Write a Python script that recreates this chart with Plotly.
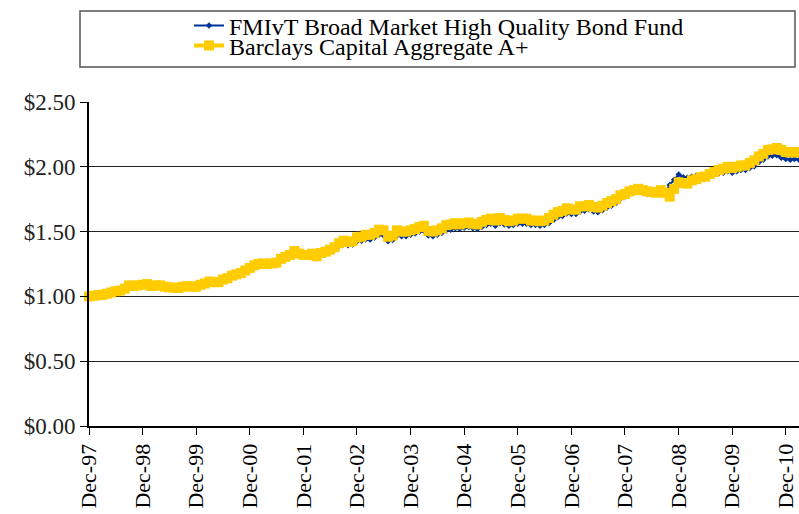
import pandas as pd
import plotly.graph_objects as go

# Month-end dates Dec-97 .. Mar-11
dates = pd.date_range("1997-12-31", "2011-03-31", freq="ME")

fund = [1.00,
    1.002,1.006,1.008,1.015,1.025,1.035,1.04,1.055,1.08,1.075,1.08,1.085,
    1.09,1.075,1.08,1.08,1.07,1.065,1.062,1.06,1.07,1.072,1.072,1.068,
    1.085,1.095,1.11,1.105,1.105,1.125,1.135,1.155,1.165,1.175,1.195,1.215,
    1.23,1.24,1.245,1.24,1.245,1.25,1.28,1.295,1.31,1.335,1.32,1.31,
    1.305,1.315,1.295,1.32,1.33,1.345,1.36,1.39,1.405,1.395,1.40,1.425,
    1.43,1.44,1.44,1.455,1.475,1.47,1.425,1.435,1.47,1.465,1.465,1.475,
    1.485,1.50,1.505,1.47,1.465,1.475,1.49,1.51,1.515,1.525,1.52,1.53,
    1.535,1.525,1.52,1.535,1.55,1.56,1.545,1.565,1.555,1.545,1.55,1.56,
    1.56,1.56,1.55,1.55,1.545,1.55,1.565,1.59,1.61,1.62,1.64,1.635,
    1.635,1.655,1.66,1.67,1.655,1.65,1.665,1.685,1.70,1.72,1.755,1.77,
    1.80,1.81,1.81,1.80,1.79,1.79,1.79,1.80,1.80,1.86,1.90,1.94,
    1.92,1.915,1.925,1.93,1.935,1.935,1.94,1.945,1.95,1.955,1.965,1.955,
    1.965,1.975,1.975,1.99,2.005,2.035,2.055,2.08,2.085,2.09,2.07,2.06,
    2.055,2.06,2.055]

index = [1.00,
    1.005,1.01,1.012,1.02,1.03,1.04,1.045,1.06,1.085,1.08,1.085,1.09,
    1.095,1.08,1.085,1.085,1.075,1.07,1.068,1.065,1.075,1.078,1.077,1.075,
    1.09,1.10,1.115,1.11,1.11,1.13,1.14,1.16,1.17,1.18,1.20,1.22,
    1.24,1.25,1.255,1.25,1.255,1.26,1.29,1.305,1.32,1.35,1.33,1.32,
    1.32,1.33,1.31,1.335,1.345,1.36,1.38,1.41,1.43,1.42,1.425,1.455,
    1.46,1.475,1.475,1.49,1.515,1.51,1.46,1.47,1.51,1.50,1.50,1.51,
    1.52,1.535,1.545,1.505,1.50,1.51,1.525,1.55,1.555,1.565,1.555,1.565,
    1.57,1.56,1.555,1.575,1.59,1.60,1.585,1.605,1.59,1.58,1.585,1.60,
    1.60,1.60,1.585,1.585,1.58,1.585,1.605,1.63,1.65,1.66,1.68,1.67,
    1.67,1.695,1.695,1.705,1.69,1.685,1.70,1.72,1.735,1.75,1.78,1.79,
    1.81,1.82,1.83,1.82,1.81,1.805,1.80,1.82,1.80,1.77,1.83,1.88,
    1.875,1.87,1.895,1.905,1.92,1.925,1.945,1.96,1.975,1.985,2.00,1.99,
    2.00,2.01,2.01,2.03,2.05,2.08,2.10,2.13,2.135,2.145,2.13,2.115,
    2.11,2.115,2.11]

series_names = ["FMIvT Broad Market High Quality Bond Fund",
                "Barclays Capital Aggregate A+"]
tick_dates = [d for d in dates if d.month == 12]
tick_labels = [d.strftime("Dec-%y") for d in tick_dates]
y_ticks = [0, 0.5, 1.0, 1.5, 2.0, 2.5]
y_tick_labels = ["$0.00", "$0.50", "$1.00", "$1.50", "$2.00", "$2.50"]

FONT = "Liberation Serif"
W, H = 799, 514
L, R, T, B = 89, 0, 102, 88
pw, ph = W - L - R, H - T - B

def px(x):
    return (x - L) / pw

def py(y):
    return (H - B - y) / ph

fig = go.Figure()
fig.add_trace(go.Scatter(
    x=dates, y=fund, name=series_names[0], mode="lines+markers",
    line=dict(color="#003399", width=2),
    marker=dict(symbol="diamond", size=5, color="#003399"),
    legend="legend2", cliponaxis=False))
fig.add_trace(go.Scatter(
    x=dates, y=index, name=series_names[1], mode="lines+markers",
    line=dict(color="#FFCC00", width=4),
    marker=dict(symbol="square", size=10, color="#FFCC00"),
    legend="legend3", cliponaxis=False))

legend_common = dict(font=dict(family=FONT, size=24, color="black"),
                     bgcolor="rgba(0,0,0,0)", borderwidth=0,
                     xref="container", yref="container",
                     xanchor="left", yanchor="middle", itemwidth=30)

fig.update_layout(
    width=W, height=H,
    margin=dict(l=L, r=R, t=T, b=B, autoexpand=False),
    paper_bgcolor="white", plot_bgcolor="white",
    font=dict(family=FONT, size=22, color="black"),
    showlegend=True,
    legend2=dict(x=189 / W, y=1 - 26 / H, **legend_common),
    legend3=dict(x=189 / W, y=1 - 46 / H, **legend_common),
    xaxis=dict(
        range=[dates[0], dates[-1]], automargin=False,
        tickvals=tick_dates, ticktext=tick_labels, tickangle=-90,
        ticks="outside", ticklen=7, tickcolor="black", tickwidth=1,
        ticklabelstandoff=0,
        showline=True, linecolor="black", linewidth=2,
        showgrid=False, zeroline=False,
        tickfont=dict(family=FONT, size=22, color="black")),
    yaxis=dict(
        range=[0, 2.5], automargin=False,
        tickvals=y_ticks, ticktext=y_tick_labels,
        ticks="outside", ticklen=7, tickcolor="black",
        showline=True, linecolor="black", linewidth=2,
        showgrid=True, gridcolor="#222222", gridwidth=1, zeroline=False,
        tickfont=dict(family=FONT, size=23, color="#222222")),
    shapes=[dict(type="rect", xref="paper", yref="paper",
                 x0=px(80), x1=px(795), y0=py(67), y1=py(11),
                 line=dict(color="#555555", width=1.5),
                 fillcolor="rgba(0,0,0,0)")],
)

fig.write_html(
    "out.html",
    config={"displayModeBar": False},
    post_script="document.body.style.margin='0';document.body.style.overflow='hidden';",
)
